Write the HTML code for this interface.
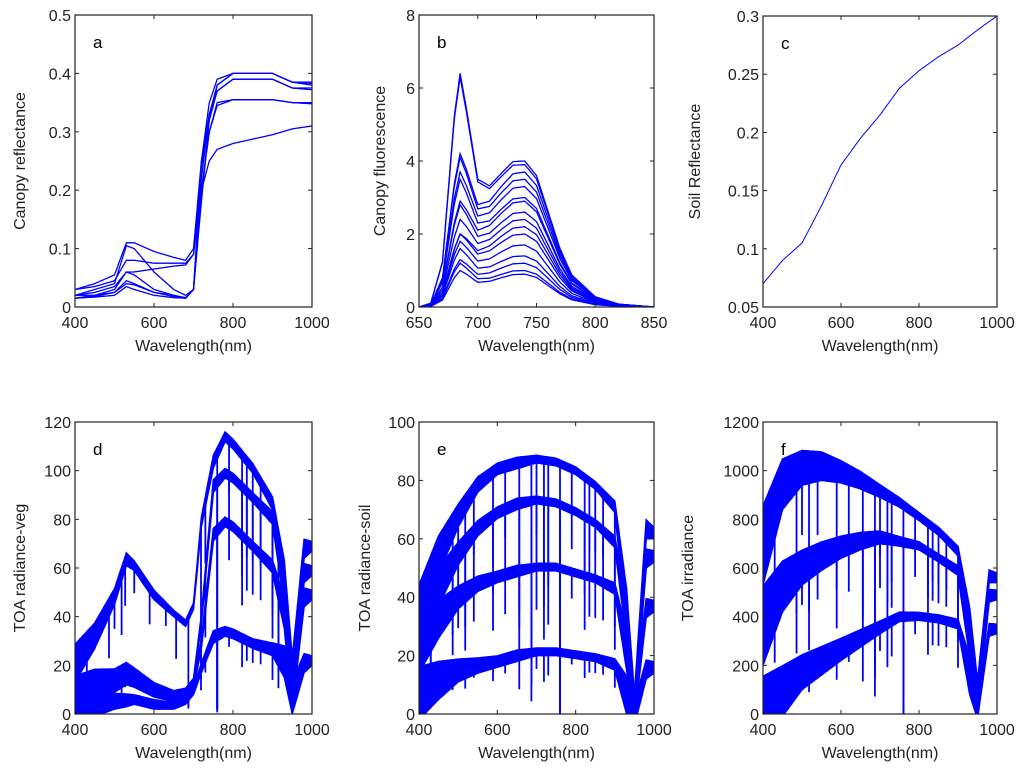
<!DOCTYPE html>
<html><head><meta charset="utf-8"><style>
html,body{margin:0;padding:0;background:#fff;}
svg{display:block;font-family:"Liberation Sans",Arial,sans-serif;}
</style></head><body>
<svg id="fig" width="1024" height="774" viewBox="0 0 1024 774"></svg>
<script>
// ---------- DATA ----------
const aWl = [400,450,500,530,550,600,650,680,700,720,740,760,800,900,950,1000];
const aSeries = [
 [0.03,0.04,0.055,0.11,0.11,0.095,0.085,0.08,0.10,0.25,0.33,0.38,0.40,0.40,0.385,0.385],
 [0.03,0.035,0.045,0.08,0.08,0.075,0.075,0.075,0.09,0.24,0.32,0.37,0.39,0.39,0.375,0.375],
 [0.02,0.03,0.04,0.105,0.10,0.06,0.03,0.02,0.03,0.20,0.30,0.345,0.355,0.355,0.35,0.35],
 [0.02,0.025,0.035,0.06,0.06,0.065,0.07,0.072,0.09,0.20,0.25,0.27,0.28,0.295,0.305,0.31],
 [0.015,0.02,0.03,0.06,0.055,0.03,0.02,0.015,0.03,0.25,0.35,0.39,0.40,0.40,0.385,0.38],
 [0.015,0.018,0.025,0.045,0.04,0.025,0.018,0.015,0.03,0.22,0.33,0.37,0.39,0.39,0.375,0.372],
 [0.015,0.017,0.02,0.035,0.03,0.02,0.016,0.015,0.03,0.20,0.30,0.35,0.355,0.355,0.35,0.348],
 [0.02,0.02,0.025,0.04,0.038,0.025,0.02,0.016,0.03,0.18,0.32,0.38,0.40,0.40,0.385,0.383]
];
const bWl = [650,660,670,680,685,690,700,710,720,730,740,750,760,770,780,800,820,850];
const bRedShape = [0,0.02,0.2,0.85,1,0.75,0.25,0.1,0.05,0.02,0,0,0,0,0,0,0,0];
const bFarRedShape = [0,0,0.05,0.2,0.3,0.4,0.55,0.7,0.85,0.97,1,0.9,0.65,0.4,0.22,0.07,0.02,0];
const bPeakRed = [6.4,6.3,4.2,4.1,3.7,3.5,2.9,2.8,2.4,2.0,2.0,1.8,1.6,1.3,1.2,1.0];
const bPeakFarRed = [4.0,3.9,3.7,3.5,3.3,3.0,2.9,2.6,2.4,2.2,2.0,1.7,1.4,1.2,1.0,0.9];
const cWl = [400,450,500,550,600,650,700,750,800,850,900,950,1000];
const cVals = [0.07,0.09,0.105,0.137,0.172,0.195,0.215,0.238,0.253,0.265,0.275,0.288,0.30];
const dWl = [400,450,500,530,550,600,650,680,700,720,750,780,800,850,900,930,950,980,1000];
const dSeries = [
 [25,35,50,65,62,50,42,38,45,80,105,115,112,102,88,60,20,70,70],
 [12,16,17,20,18,12,9,10,14,40,95,100,98,90,82,55,15,60,60],
 [9,13,14,16,14,10,7,9,12,30,75,80,78,70,62,45,12,50,50],
 [5,7,7,7,7,5,4,6,10,20,33,35,34,30,28,25,10,23,23]
];
const dNoise = [12,8,5,4,3,3,2,2,2,3,4,3,3,3,4,10,10,6,3];
const dDips = [[430,0.5],[486,0.5],[500,0.3],[518,0.45],[527,0.3],[550,0.2],[589,0.3],[630,0.2],[656,0.45],[687,0.7],[719,0.5],[730,0.3],[760,0.98],[790,0.2],[823,0.4],[835,0.3],[850,0.3],[870,0.3],[900,0.5],[915,0.6]];
const eWl = [400,450,500,550,600,650,700,750,800,850,900,930,950,980,1000];
const eSeries = [
 [40,58,70,80,85,87,88,87,84,79,72,40,5,65,63],
 [35,47,57,65,70,73,74,73,70,66,60,35,5,55,55],
 [28,36,42,46,48,50,51,51,49,47,44,25,4,38,38],
 [12,15,17,18,19,21,22,22,21,20,18,10,2,17,17]
];
const eNoise = [14,10,6,4,3,3,2,2,2,2,3,10,6,5,3];
const eDips = [[430,0.6],[486,0.5],[500,0.3],[518,0.5],[540,0.3],[589,0.4],[620,0.3],[656,0.6],[687,0.8],[700,0.3],[719,0.5],[730,0.4],[760,1.0],[790,0.2],[823,0.4],[835,0.3],[850,0.3],[870,0.3],[900,0.5]];
const fWl = [400,450,500,550,600,650,700,750,800,850,900,930,950,980,1000];
const fSeries = [
 [780,1000,1050,1050,1020,980,930,880,820,760,680,400,120,580,570],
 [450,580,640,680,710,730,740,720,700,650,600,350,80,500,500],
 [80,150,210,250,290,330,370,410,410,400,380,200,40,360,360]
];
const fNoise = [250,160,110,90,70,55,40,30,25,25,30,120,60,40,30];
const fDips = [[430,0.6],[486,0.6],[500,0.3],[518,0.6],[540,0.3],[589,0.5],[620,0.3],[656,0.6],[687,0.8],[700,0.3],[719,0.5],[730,0.4],[760,1.0],[790,0.2],[823,0.4],[835,0.3],[850,0.3],[870,0.3],[900,0.5]];

// ---------- DRAWING ----------
const NS = "http://www.w3.org/2000/svg";
const svg = document.getElementById('fig');
const BLUE = "#0000ff";
function mk(tag, attrs, parent){
  const el = document.createElementNS(NS, tag);
  for (const k in attrs) el.setAttribute(k, attrs[k]);
  (parent||svg).appendChild(el);
  return el;
}
function interp(xs, ys, x){
  if (x <= xs[0]) return ys[0];
  for (let i=1;i<xs.length;i++){
    if (x <= xs[i]){ const t=(x-xs[i-1])/(xs[i]-xs[i-1]); return ys[i-1]+t*(ys[i]-ys[i-1]); }
  }
  return ys[ys.length-1];
}
function panel(p){
  const g = mk('g', {});
  
  
  const sx = v => p.L + (v - p.x0) / (p.x1 - p.x0) * (p.R - p.L);
  const sy = v => p.B - (v - p.y0) / (p.y1 - p.y0) * (p.B - p.T);
  const cp = mk('clipPath', {id: 'clip-'+p.id}, g);
  mk('rect', {x:p.L, y:p.T, width:p.R-p.L, height:p.B-p.T}, cp);
  const data = mk('g', {'clip-path': 'url(#clip-'+p.id+')'}, g);
  
  
  p.draw(data, sx, sy);
  const fr = mk('rect', {x:p.L, y:p.T, width:p.R-p.L, height:p.B-p.T, fill:'none', stroke:'#222', 'stroke-width':1.2}, g);
  
  
  p.xt.forEach(v => {
    const x = sx(v);
    mk('line', {x1:x, x2:x, y1:p.B, y2:p.B-4, stroke:'#222'}, g);
    mk('line', {x1:x, x2:x, y1:p.T, y2:p.T+4, stroke:'#222'}, g);
    const t = mk('text', {x:x, y:p.B+21, 'text-anchor':'middle', 'font-size':16, fill:'#222'}, g);
    t.textContent = v;
    
    
  });
  p.yt.forEach((v, i) => {
    const y = sy(v);
    mk('line', {x1:p.L, x2:p.L+4, y1:y, y2:y, stroke:'#222'}, g);
    mk('line', {x1:p.R, x2:p.R-4, y1:y, y2:y, stroke:'#222'}, g);
    const t = mk('text', {x:p.L-4, y:y+6, 'text-anchor':'end', 'font-size':16, fill:'#222'}, g);
    t.textContent = p.ytl[i];
    
    
  });
  const xl = mk('text', {x:(p.L+p.R)/2, y:p.B+44, 'text-anchor':'middle', 'font-size':16, fill:'#222'}, g);
  xl.textContent = 'Wavelength(nm)';
  
  
  const yx = p.ylx, yy = (p.T+p.B)/2;
  const yl = mk('text', {x:yx, y:yy, 'text-anchor':'middle', 'font-size':16, fill:'#222', transform:'rotate(-90 '+yx+' '+yy+')'}, g);
  yl.textContent = p.ylabel;
  
  
  const lt = mk('text', {x:p.L+18, y:p.T+33, 'font-size':17, fill:'#000'}, g);
  lt.textContent = p.letter;
  
  
}
function lineSeries(g, xs, ys, sx, sy, w){
  let d = '';
  for (let x = xs[0]; x <= xs[xs.length-1]; x += 1){
    d += (d ? 'L' : 'M') + sx(x).toFixed(1) + ',' + sy(interp(xs, ys, x)).toFixed(1);
  }
  const p = mk('path', {d:d, fill:'none', stroke:BLUE, 'stroke-width':w||1}, g);
  
  
}
function bandSeries(g, xs, ys, noise, dips, sx, sy){
  let up = [], lo = [];
  for (let x = xs[0]; x <= xs[xs.length-1]; x += 2){
    const c = interp(xs, ys, x), n = interp(xs, noise, x);
    up.push(sx(x).toFixed(1)+','+sy(c + n*0.3).toFixed(1));
    lo.push(sx(x).toFixed(1)+','+sy(Math.max(0, c - n)).toFixed(1));
  }
  const poly = mk('polygon', {points: up.concat(lo.reverse()).join(' '), fill:BLUE, stroke:BLUE, 'stroke-width':1.5}, g);
  
  
  dips.forEach(dp => {
    const c = interp(xs, ys, dp[0]);
    const ln = mk('line', {x1:sx(dp[0]), x2:sx(dp[0]), y1:sy(c), y2:sy(c*(1-dp[1])), stroke:BLUE, 'stroke-width':1.8}, g);
    
    
  });
}

panel({id:'a', name:'panel-a-canopy-reflectance', letter:'a', L:75, R:312, T:15, B:307, x0:400, x1:1000, y0:0, y1:0.5,
  xt:[400,600,800,1000], yt:[0,0.1,0.2,0.3,0.4,0.5], ytl:['0','0.1','0.2','0.3','0.4','0.5'],
  ylabel:'Canopy reflectance', ylx:25,
  draw:(g,sx,sy)=>{ aSeries.forEach(s => lineSeries(g, aWl, s, sx, sy, 1.3)); }});
panel({id:'b', name:'panel-b-canopy-fluorescence', letter:'b', L:419, R:654, T:15, B:307, x0:650, x1:850, y0:0, y1:8,
  xt:[650,700,750,800,850], yt:[0,2,4,6,8], ytl:['0','2','4','6','8'],
  ylabel:'Canopy fluorescence', ylx:385,
  draw:(g,sx,sy)=>{
    bPeakRed.forEach((pr,i) => {
      const p2 = bPeakFarRed[i], p1 = pr - 0.3*p2;
      const vals = bWl.map((w,j) => p1*bRedShape[j] + p2*bFarRedShape[j]);
      lineSeries(g, bWl, vals, sx, sy, 1.3);
    });
  }});
panel({id:'c', name:'panel-c-soil-reflectance', letter:'c', L:763, R:997, T:16, B:307, x0:400, x1:1000, y0:0.05, y1:0.3,
  xt:[400,600,800,1000], yt:[0.05,0.1,0.15,0.2,0.25,0.3], ytl:['0.05','0.1','0.15','0.2','0.25','0.3'],
  ylabel:'Soil Reflectance', ylx:700,
  draw:(g,sx,sy)=>{ lineSeries(g, cWl, cVals, sx, sy, 1); }});
panel({id:'d', name:'panel-d-toa-radiance-veg', letter:'d', L:75, R:312, T:422, B:714, x0:400, x1:1000, y0:0, y1:120,
  xt:[400,600,800,1000], yt:[0,20,40,60,80,100,120], ytl:['0','20','40','60','80','100','120'],
  ylabel:'TOA radiance-veg', ylx:25,
  draw:(g,sx,sy)=>{ dSeries.forEach(s => bandSeries(g, dWl, s, dNoise, dDips, sx, sy)); }});
panel({id:'e', name:'panel-e-toa-radiance-soil', letter:'e', L:419, R:654, T:422, B:714, x0:400, x1:1000, y0:0, y1:100,
  xt:[400,600,800,1000], yt:[0,20,40,60,80,100], ytl:['0','20','40','60','80','100'],
  ylabel:'TOA radiance-soil', ylx:370,
  draw:(g,sx,sy)=>{ eSeries.forEach(s => bandSeries(g, eWl, s, eNoise, eDips, sx, sy)); }});
panel({id:'f', name:'panel-f-toa-irradiance', letter:'f', L:763, R:997, T:422, B:714, x0:400, x1:1000, y0:0, y1:1200,
  xt:[400,600,800,1000], yt:[0,200,400,600,800,1000,1200], ytl:['0','200','400','600','800','1000','1200'],
  ylabel:'TOA irradiance', ylx:693,
  draw:(g,sx,sy)=>{ fSeries.forEach(s => bandSeries(g, fWl, s, fNoise, fDips, sx, sy)); }});
</script>
</body></html>
